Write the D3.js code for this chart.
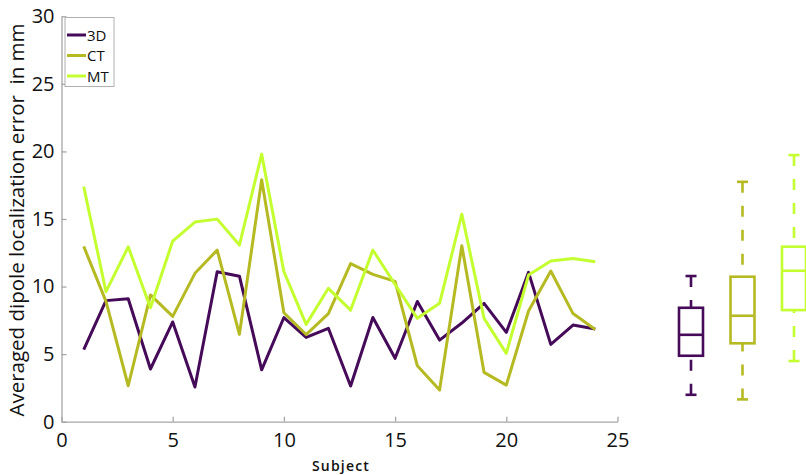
<!DOCTYPE html>
<html>
<head>
<meta charset="utf-8">
<script src="https://cdn.jsdelivr.net/npm/d3@7"></script>
<style>
  html, body { margin: 0; padding: 0; background: #fff; }
  svg { display: block; }
  .tick text { font-family: "Liberation Sans Narrow", "Open Sans", sans-serif; font-size: 20px; fill: #111; }
</style>
</head>
<body>
<svg id="chart" width="806" height="475"></svg>
<script>
// Subjects on the x axis
const subjects = [1, 2, 3, 4, 5, 6, 7, 8, 9, 10, 11, 12, 13, 14, 15, 16, 17, 18, 19, 20, 21, 22, 23, 24];

// Averaged dipole localization error (mm) per subject and head model
const err3D = [5.33, 8.96, 9.1, 3.9, 7.38, 2.57, 11.09, 10.77, 3.84, 7.71, 6.24, 6.91, 2.64, 7.71, 4.69, 8.9, 6.04, 7.3, 8.76, 6.61, 11.05, 5.72, 7.15, 6.86];
const errCT = [12.97, 8.9, 2.66, 9.38, 7.79, 10.98, 12.7, 6.46, 17.9, 8.06, 6.45, 8.0, 11.7, 10.9, 10.38, 4.14, 2.34, 13.02, 3.65, 2.71, 8.19, 11.15, 8.0, 6.83];
const errMT = [17.4, 9.62, 12.94, 8.43, 13.37, 14.77, 14.99, 13.07, 19.8, 11.1, 7.2, 9.87, 8.26, 12.7, 10.15, 7.65, 8.76, 15.36, 7.65, 5.06, 10.85, 11.89, 12.08, 11.83];

const models = ["3D", "CT", "MT"];
const colors = ["#450a58", "#b6ba22", "#c4ff30"];

// Box plot summary per model
const boxLow  = [1.99, 1.65, 4.49];
const boxQ1   = [4.88, 5.8, 8.26];
const boxMed  = [6.43, 7.84, 11.17];
const boxQ3   = [8.43, 10.73, 12.95];
const boxHigh = [10.78, 17.75, 19.73];

// Axis ticks
const xTicks = [0, 5, 10, 15, 20, 25];
const yTicks = [0, 5, 10, 15, 20, 25, 30];

const svg = d3.select("#chart");

const x = d3.scaleLinear().domain([0, 25]).range([61.5, 617.5]);
const y = d3.scaleLinear().domain([0, 30]).range([421.7, 16.3]);
const xBox = d3.scalePoint().domain(models).range([691, 794]);
const color = d3.scaleOrdinal().domain(models).range(colors);

const axisColor = "#a6a6a6";

// Axes
const gx = svg.append("g")
  .attr("transform", `translate(0,${y(0)})`)
  .call(d3.axisBottom(x).tickValues(xTicks).tickSizeInner(-5).tickSizeOuter(0).tickPadding(11));
const gy = svg.append("g")
  .attr("transform", `translate(${x(0)},0)`)
  .call(d3.axisLeft(y).tickValues(yTicks).tickSizeInner(-5).tickSizeOuter(0).tickPadding(7));
[gx, gy].forEach(g => {
  g.select(".domain").attr("stroke", axisColor).attr("stroke-width", 1.3);
  g.selectAll(".tick line").attr("stroke", axisColor).attr("stroke-width", 1.3);
});

// Axis titles
svg.append("text")
  .attr("x", 341).attr("y", 471)
  .attr("text-anchor", "middle")
  .style("font-family", "'Open Sans', sans-serif")
  .style("font-size", "14px")
  .style("font-weight", "600")
  .style("letter-spacing", "1.2px")
  .attr("fill", "#111")
  .text("Subject");

svg.append("text")
  .attr("transform", `translate(24,${(y(0) + y(30)) / 2 + 1}) rotate(-90)`)
  .attr("text-anchor", "middle")
  .style("font-family", "'Open Sans', sans-serif")
  .style("font-size", "20.5px")
  .style("white-space", "pre")
  .attr("fill", "#111")
  .text("Averaged dipole localization error  in mm");

// Error lines per model
const seriesData = [err3D, errCT, errMT];
const line = d3.line()
  .x((d, i) => x(subjects[i]))
  .y(d => y(d));

svg.append("g").selectAll("path")
  .data(seriesData)
  .join("path")
  .attr("d", d => line(d))
  .attr("fill", "none")
  .attr("stroke", (d, i) => colors[i])
  .attr("stroke-width", 3)
  .attr("stroke-linejoin", "round");

// Legend
const legend = svg.append("g");
legend.append("rect")
  .attr("x", 65).attr("y", 17.5).attr("width", 49).attr("height", 69)
  .attr("fill", "#fff").attr("stroke", "#b0b0b0").attr("stroke-width", 1);
models.forEach((m, i) => {
  const ly = 35 + i * 20.5;
  legend.append("line")
    .attr("x1", 67).attr("x2", 86).attr("y1", ly).attr("y2", ly)
    .attr("stroke", colors[i]).attr("stroke-width", 3);
  legend.append("text")
    .attr("x", 87).attr("y", ly + 5.5)
    .style("font-family", "'Liberation Sans Narrow', 'Open Sans', sans-serif")
    .style("font-size", "15px")
    .attr("fill", "#111")
    .text(m);
});

// Box plots
const boxW = 24, capW = 11;
const boxes = svg.append("g").selectAll("g")
  .data(models)
  .join("g")
  .attr("stroke", m => color(m))
  .attr("stroke-width", 2.6)
  .attr("fill", "none");

boxes.each(function (m, i) {
  const g = d3.select(this);
  const cx = xBox(m);
  // whiskers
  g.append("line").attr("x1", cx).attr("x2", cx)
    .attr("y1", y(boxHigh[i])).attr("y2", y(boxQ3[i]))
    .attr("stroke-dasharray", "11,13");
  g.append("line").attr("x1", cx).attr("x2", cx)
    .attr("y1", y(boxLow[i])).attr("y2", y(boxQ1[i]))
    .attr("stroke-dasharray", "11,13");
  // caps
  g.append("line").attr("x1", cx - capW / 2).attr("x2", cx + capW / 2)
    .attr("y1", y(boxHigh[i])).attr("y2", y(boxHigh[i]));
  g.append("line").attr("x1", cx - capW / 2).attr("x2", cx + capW / 2)
    .attr("y1", y(boxLow[i])).attr("y2", y(boxLow[i]));
  // box and median
  g.append("rect")
    .attr("x", cx - boxW / 2).attr("width", boxW)
    .attr("y", y(boxQ3[i])).attr("height", y(boxQ1[i]) - y(boxQ3[i]))
    .attr("fill", "#fff");
  g.append("line").attr("x1", cx - boxW / 2).attr("x2", cx + boxW / 2)
    .attr("y1", y(boxMed[i])).attr("y2", y(boxMed[i]));
});
</script>
</body>
</html>
